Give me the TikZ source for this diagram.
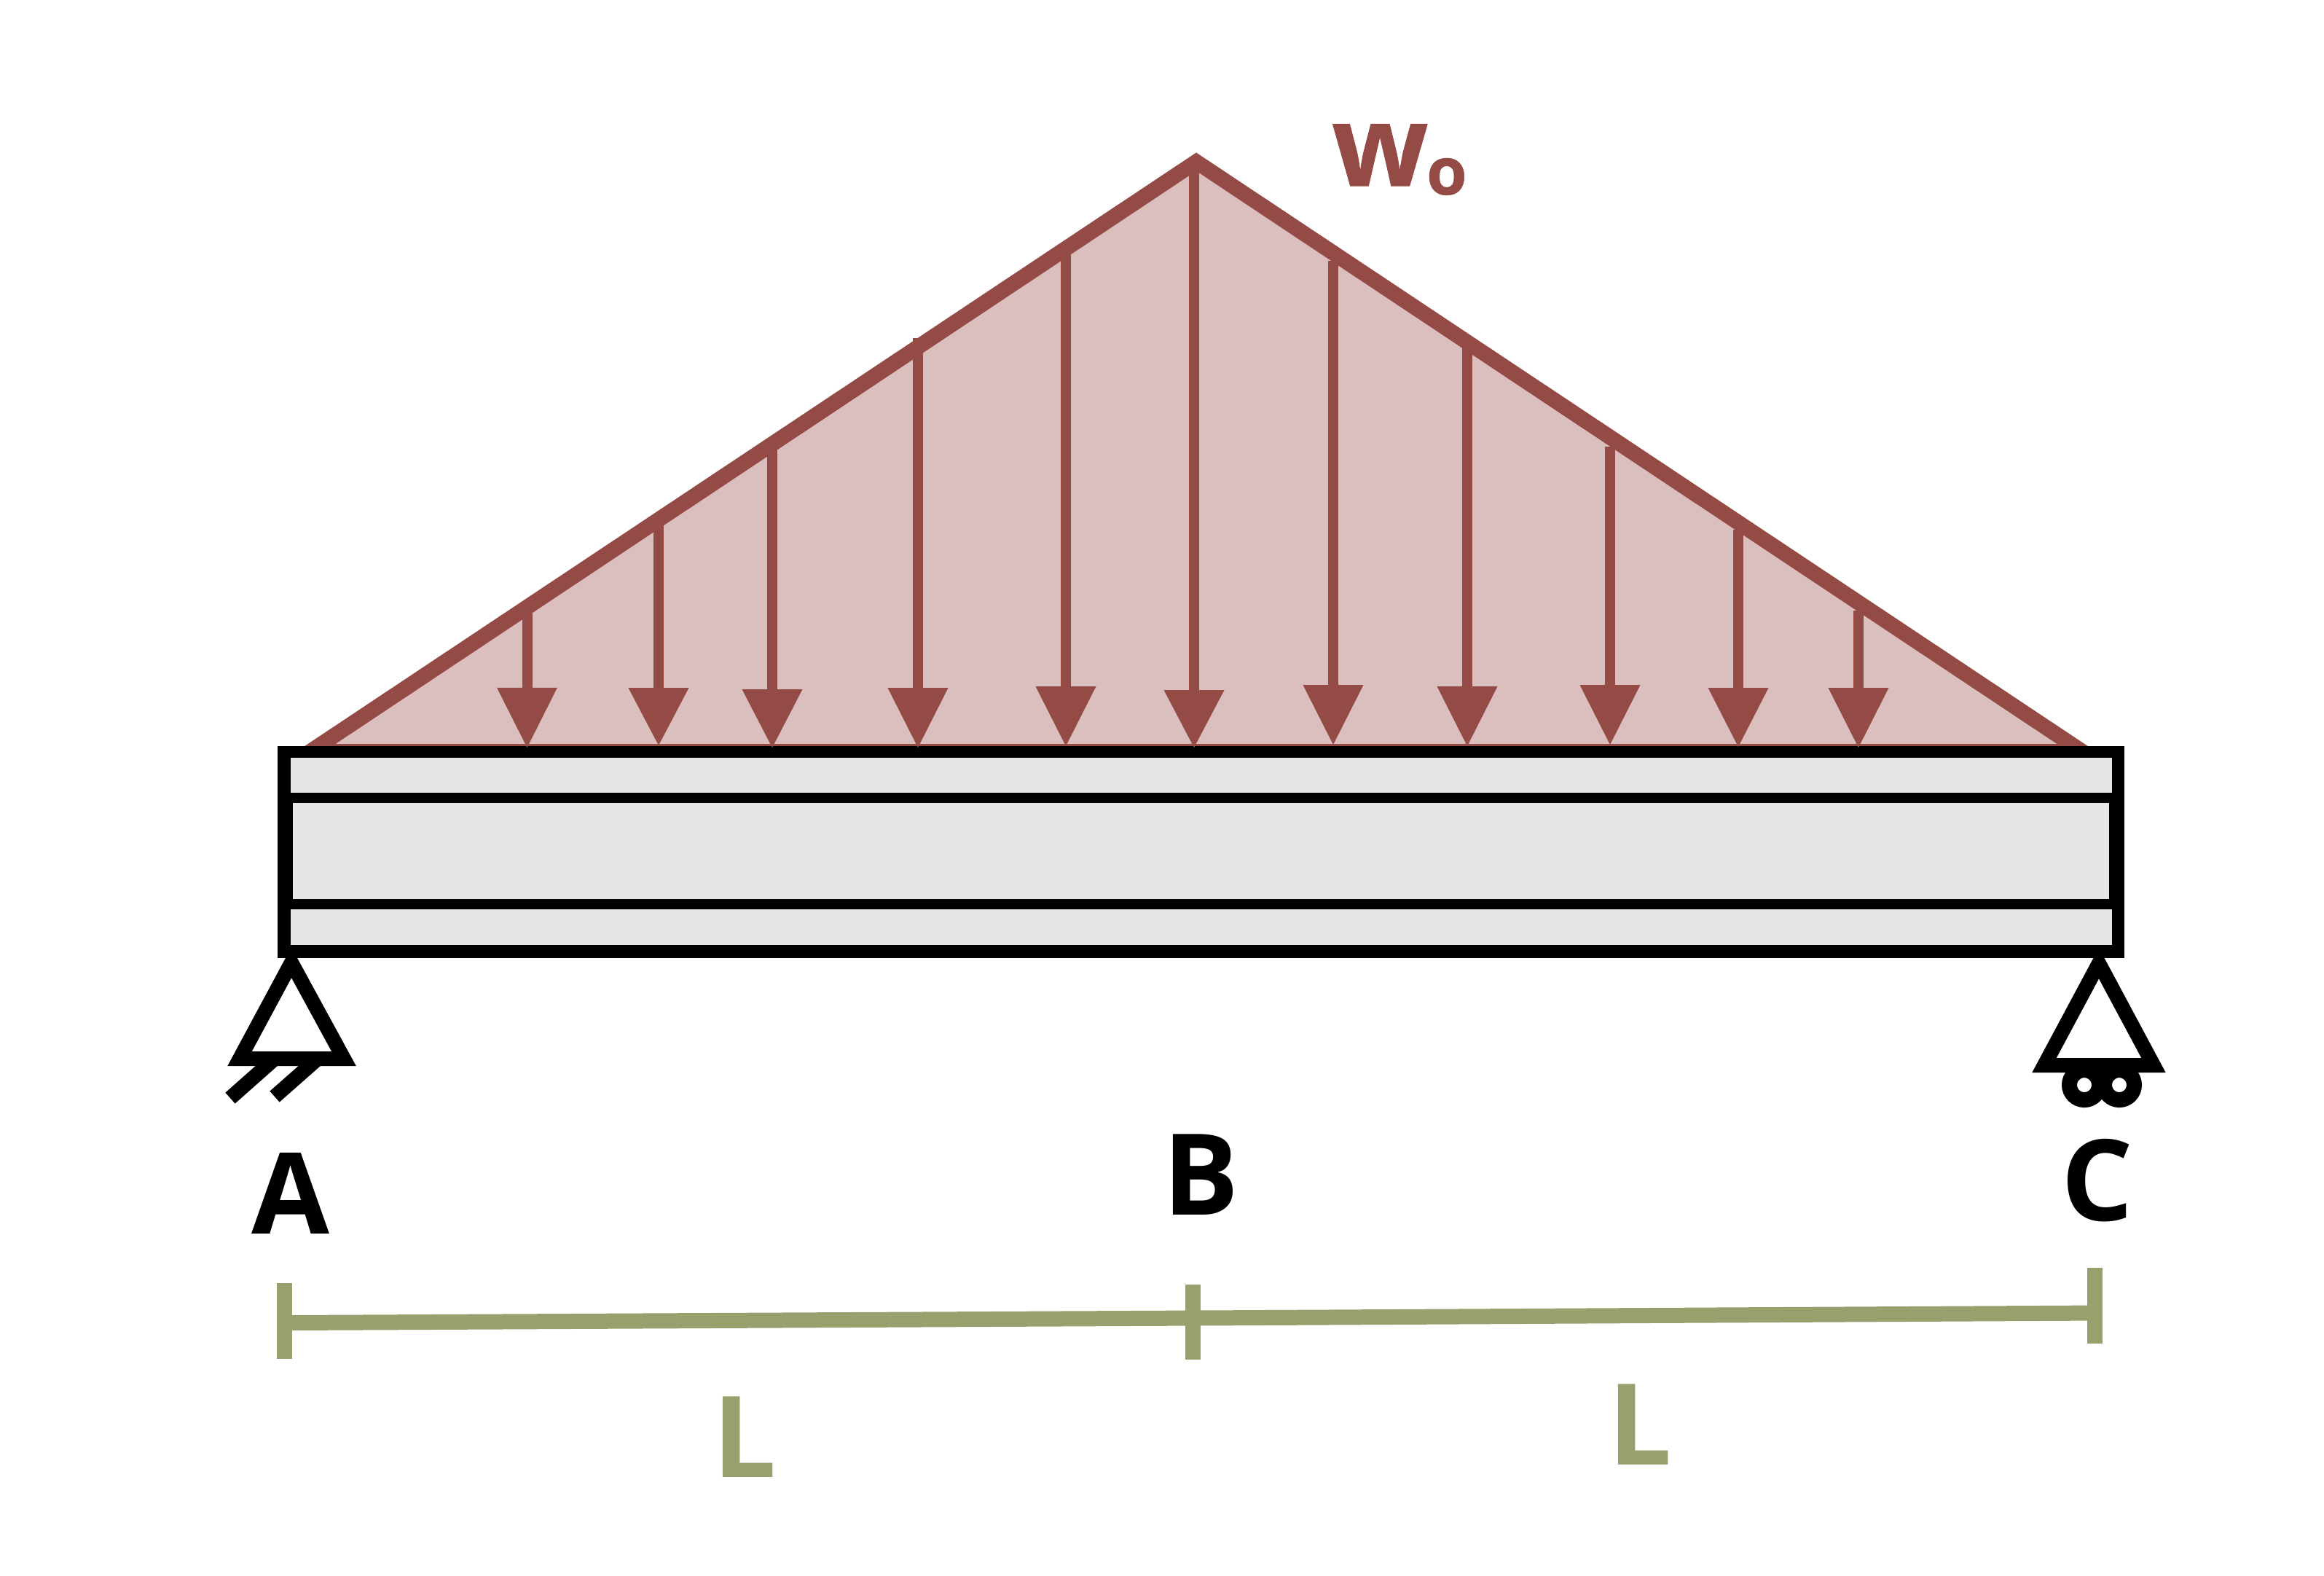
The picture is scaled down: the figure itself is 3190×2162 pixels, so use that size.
\documentclass[tikz,border=0pt]{standalone}
\usepackage{fontspec}
\setmainfont{Open Sans}
\newfontfamily\heavyfont[BoldFeatures={FakeBold=0.6}]{Open Sans}
\usepackage{tikz}
\usetikzlibrary{positioning}
\usepackage{color}

\definecolor{loadred}{HTML}{944B45}
\definecolor{loadpink}{HTML}{DBBFBE}
\definecolor{beamgray}{HTML}{E6E6E6}
\definecolor{dimgreen}{HTML}{9AA06D}

\tikzset{
    loadline/.style={draw=loadred,line width=2.1pt,line join=miter},
    loadstem/.style={draw=loadred,line width=1.4pt},
    supportline/.style={draw=black,line width=2pt,line join=miter},
    hatchline/.style={draw=black,line width=2pt},
    wheelring/.style={draw=black,line width=2.1pt},
    dimline/.style={draw=dimgreen,line width=2.1pt},
    biglabel/.style={anchor=base west,inner sep=0pt,font=\fontsize{15.5pt}{18pt}\selectfont\bfseries},
}

% x, top of stem, top of head, tip
\newcommand{\loadarrow}[4]{
    \draw[loadstem] (#1,#2) -- (#1,#3+8);
    \fill[loadred] (#1-41.5,#3) -- (#1+41.5,#3) -- (#1,#4) -- cycle;
}

\begin{document}
\begin{tikzpicture}[x=0.1pt,y=-0.1pt]
    \useasboundingbox (0,0) rectangle (3190,2162);

    % distributed load
    \fill[loadpink] (437,1024) -- (1642,222) -- (2847,1024) -- cycle;
    \draw[loadline] (407,1044) -- (1642,222) -- (2877,1044);
    \draw[draw=loadred,line width=0.4pt] (450,1022.5) -- (2835,1022.5);

    % beam
    \fill[black] (381,1024) rectangle (2916,1315);
    \fill[beamgray] (399,1040) rectangle (2899,1088);
    \fill[beamgray] (402,1102) rectangle (2895,1234);
    \fill[beamgray] (399,1248) rectangle (2899,1297);

    \loadarrow{723.5}{834}{943.7}{1026}
    \loadarrow{904}{716}{944}{1023}
    \loadarrow{1060}{614}{946}{1026}
    \loadarrow{1260}{464}{944}{1026}
    \loadarrow{1463}{348}{942}{1024}
    \loadarrow{1639}{230}{947}{1026}
    \loadarrow{1830}{358}{940}{1022}
    \loadarrow{2014}{478}{942}{1024}
    \loadarrow{2210}{612.5}{940}{1022}
    \loadarrow{2386}{726.5}{944}{1025}
    \loadarrow{2551}{838}{944}{1026}

    % supports
    \draw[hatchline] (316,1507) -- (377,1453);
    \draw[hatchline] (377,1505) -- (436,1453);
    \draw[supportline] (400,1321) -- (329,1453) -- (472,1453) -- cycle;
    \draw[wheelring] (2861,1489) circle (20.5);
    \draw[wheelring] (2909,1489) circle (20.5);
    \draw[supportline] (2881,1322) -- (2806,1462) -- (2956,1462) -- cycle;

    % labels
    \node[biglabel,text=loadred,font=\fontsize{15.5pt}{18pt}\selectfont\heavyfont\bfseries] (wzero) at (1826,255) {w};
    \node[anchor=base west,inner sep=0pt,text=loadred,font=\fontsize{9pt}{11pt}\selectfont\heavyfont\bfseries] (wsub) at (1956,267) {o};
    \node[biglabel] (labelA) at (344,1693) {A};
    \node[biglabel] (labelB) at (1594,1667) {B};
    \node[biglabel] (labelC) at (2827,1675) {C};
    \node[biglabel,text=dimgreen] (spanAB) at (976,2027) {L};
    \node[biglabel,text=dimgreen] (spanBC) at (2205,2010) {L};

    % dimension line
    \coordinate (dimA) at (390.5,1815.5);
    \coordinate (dimB) at (1637.5,1809);
    \coordinate (dimC) at (2875.5,1802);
    \draw[dimline] (dimA) -- (dimB);
    \draw[dimline] (dimB) -- (dimC);
    \draw[dimline] (390.5,1761) -- (390.5,1865);
    \draw[dimline] (1637.5,1763) -- (1637.5,1866);
    \draw[dimline] (2875.5,1740) -- (2875.5,1844);
\end{tikzpicture}
\end{document}
